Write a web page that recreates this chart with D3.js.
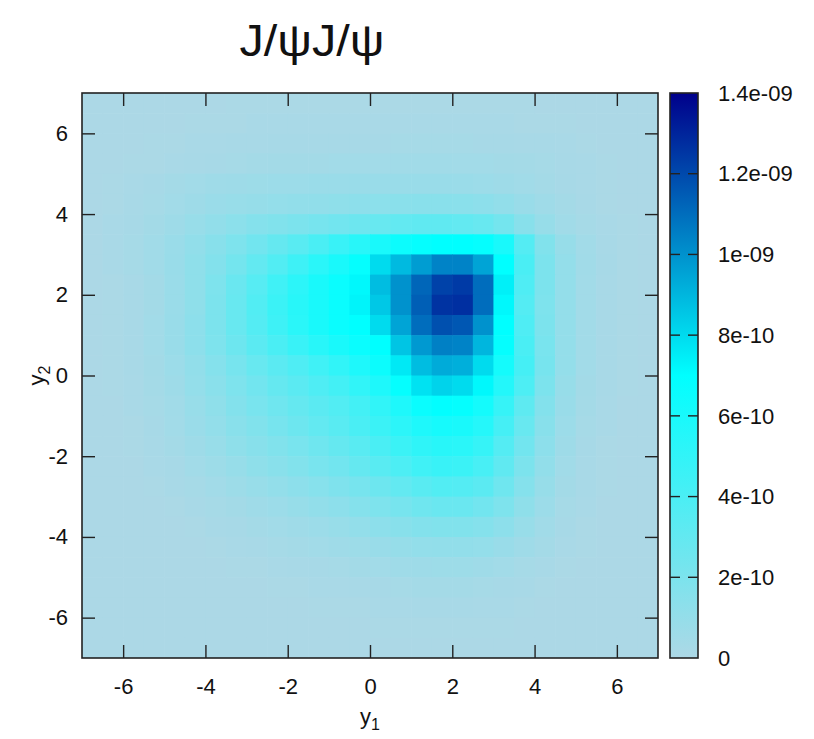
<!DOCTYPE html>
<html>
<head>
<meta charset="utf-8">
<script src="https://cdn.jsdelivr.net/npm/d3@7"></script>
<style>
  body { margin: 0; background: #fff; }
  svg { display: block; }
  text { font-family: "Liberation Sans", Arial, sans-serif; fill: #111; }
</style>
</head>
<body>
<div id="chart"></div>
<script>
// cell centres (cell width 0.5) on the y1 / y2 axes
const X_CENTERS = [-6.75, -6.25, -5.75, -5.25, -4.75, -4.25, -3.75, -3.25, -2.75, -2.25, -1.75, -1.25, -0.75, -0.25,
                   0.25, 0.75, 1.25, 1.75, 2.25, 2.75, 3.25, 3.75, 4.25, 4.75, 5.25, 5.75, 6.25, 6.75];
const Y_CENTERS = [6.75, 6.25, 5.75, 5.25, 4.75, 4.25, 3.75, 3.25, 2.75, 2.25, 1.75, 1.25, 0.75, 0.25,
                   -0.25, -0.75, -1.25, -1.75, -2.25, -2.75, -3.25, -3.75, -4.25, -4.75, -5.25, -5.75, -6.25, -6.75];
// values in units of 1e-10, rows from top (y2 = 6.75) to bottom
const Z = [
  [0.05,0.05,0.05,0.05,0.05,0.05,0.05,0.1,0.1,0.1,0.1,0.1,0.1,0.1,0.1,0.1,0.1,0.1,0.1,0.1,0.1,0.1,0.05,0.05,0.05,0.05,0.05,0.05],
  [0.05,0.05,0.05,0.05,0.05,0.1,0.1,0.1,0.15,0.15,0.15,0.15,0.15,0.15,0.15,0.15,0.15,0.15,0.15,0.15,0.15,0.1,0.1,0.1,0.05,0.05,0.05,0.05],
  [0.05,0.05,0.05,0.1,0.1,0.15,0.15,0.2,0.2,0.25,0.25,0.25,0.25,0.25,0.25,0.3,0.3,0.3,0.3,0.25,0.25,0.2,0.2,0.15,0.1,0.05,0.05,0.05],
  [0.05,0.05,0.1,0.1,0.15,0.2,0.25,0.3,0.35,0.4,0.4,0.4,0.45,0.45,0.45,0.5,0.5,0.5,0.45,0.45,0.4,0.35,0.3,0.2,0.15,0.1,0.05,0.05],
  [0.05,0.1,0.15,0.25,0.35,0.45,0.55,0.6,0.65,0.7,0.7,0.75,0.75,0.8,0.8,0.8,0.8,0.8,0.75,0.7,0.6,0.5,0.35,0.25,0.15,0.1,0.05,0.05],
  [0.05,0.1,0.2,0.3,0.45,0.6,0.75,0.85,0.95,1.0,1.1,1.15,1.2,1.3,1.35,1.4,1.45,1.45,1.4,1.3,1.1,0.8,0.55,0.35,0.2,0.1,0.05,0.05],
  [0.05,0.15,0.25,0.4,0.6,0.85,1.1,1.35,1.6,1.8,2.0,2.2,2.4,2.6,2.8,3.0,3.1,3.1,3.0,2.8,2.3,1.5,0.9,0.5,0.3,0.15,0.1,0.05],
  [0.05,0.15,0.3,0.5,0.75,1.1,1.5,1.9,2.4,2.9,3.4,4.0,4.7,5.4,6.0,6.5,6.8,7.0,7.0,6.8,6.0,3.6,1.8,0.9,0.45,0.2,0.1,0.05],
  [0.05,0.15,0.3,0.5,0.8,1.2,1.7,2.3,3.0,3.7,4.5,5.3,6.0,6.8,8.0,8.9,9.7,10.4,10.4,9.5,7.0,4.0,2.0,1.0,0.5,0.25,0.1,0.05],
  [0.05,0.1,0.2,0.4,0.75,1.2,1.9,2.7,3.5,4.4,5.2,6.0,6.6,7.2,8.8,10.0,11.2,12.2,12.4,11.0,7.4,3.8,2.0,1.0,0.45,0.2,0.1,0.05],
  [0.05,0.1,0.2,0.4,0.75,1.2,2.0,2.8,3.7,4.6,5.4,6.0,6.6,7.3,8.5,10.0,11.4,12.6,12.7,11.0,7.2,3.6,1.9,1.0,0.45,0.2,0.1,0.05],
  [0.05,0.1,0.2,0.45,0.8,1.3,2.0,2.8,3.6,4.5,5.3,6.0,6.6,7.0,8.0,9.5,11.0,11.8,11.6,10.0,7.0,3.8,2.0,1.0,0.45,0.2,0.1,0.05],
  [0.05,0.1,0.2,0.45,0.8,1.3,1.9,2.6,3.3,4.0,4.7,5.4,6.0,6.6,7.0,8.6,9.8,10.5,10.4,9.0,6.8,4.0,2.1,1.0,0.45,0.2,0.1,0.05],
  [0.05,0.1,0.2,0.4,0.7,1.1,1.6,2.2,2.8,3.3,3.8,4.4,5.0,5.8,6.5,7.6,8.8,9.3,9.2,8.0,6.2,4.2,2.2,1.0,0.45,0.2,0.1,0.05],
  [0.05,0.1,0.15,0.35,0.6,1.0,1.4,1.9,2.4,2.9,3.3,3.8,4.3,5.0,5.8,6.8,7.8,8.2,8.0,7.2,5.6,3.9,2.0,0.9,0.4,0.2,0.1,0.05],
  [0.05,0.05,0.15,0.3,0.5,0.85,1.2,1.7,2.1,2.5,2.9,3.3,3.7,4.3,5.0,5.8,6.6,6.9,6.8,6.2,4.8,3.2,1.7,0.8,0.35,0.15,0.05,0.05],
  [0.05,0.05,0.1,0.25,0.45,0.75,1.05,1.45,1.8,2.2,2.6,3.0,3.4,4.0,4.6,5.2,5.8,6.1,6.0,5.5,4.2,2.8,1.5,0.7,0.3,0.15,0.05,0.05],
  [0.05,0.05,0.1,0.2,0.35,0.6,0.85,1.2,1.5,1.8,2.1,2.5,2.9,3.4,4.0,4.6,5.1,5.4,5.3,4.8,3.6,2.4,1.3,0.6,0.25,0.1,0.05,0.05],
  [0.05,0.05,0.05,0.15,0.25,0.45,0.65,0.9,1.2,1.45,1.75,2.1,2.4,2.9,3.4,3.9,4.4,4.7,4.6,4.1,3.1,2.0,1.1,0.5,0.2,0.1,0.05,0.05],
  [0.05,0.05,0.05,0.1,0.2,0.3,0.45,0.65,0.85,1.05,1.3,1.55,1.85,2.2,2.6,3.0,3.4,3.7,3.6,3.3,2.5,1.6,0.9,0.4,0.2,0.1,0.05,0.05],
  [0.05,0.05,0.05,0.05,0.1,0.2,0.3,0.4,0.55,0.7,0.9,1.1,1.3,1.6,1.9,2.2,2.5,2.7,2.7,2.4,1.9,1.2,0.7,0.3,0.15,0.05,0.05,0.05],
  [0.05,0.05,0.05,0.05,0.05,0.1,0.2,0.25,0.35,0.45,0.55,0.7,0.85,1.05,1.3,1.5,1.7,1.8,1.8,1.6,1.3,0.85,0.5,0.25,0.1,0.05,0.05,0.05],
  [0.05,0.05,0.05,0.05,0.05,0.05,0.1,0.15,0.2,0.3,0.35,0.45,0.55,0.65,0.8,0.95,1.05,1.1,1.1,1.0,0.8,0.55,0.35,0.15,0.1,0.05,0.05,0.05],
  [0.05,0.05,0.05,0.05,0.05,0.05,0.05,0.1,0.1,0.15,0.2,0.25,0.3,0.4,0.45,0.55,0.6,0.65,0.65,0.55,0.45,0.3,0.2,0.1,0.05,0.05,0.05,0.05],
  [0.05,0.05,0.05,0.05,0.05,0.05,0.05,0.05,0.05,0.1,0.1,0.15,0.15,0.2,0.25,0.3,0.35,0.35,0.35,0.3,0.25,0.2,0.1,0.05,0.05,0.05,0.05,0.05],
  [0.05,0.05,0.05,0.05,0.05,0.05,0.05,0.05,0.05,0.05,0.05,0.1,0.1,0.1,0.15,0.15,0.2,0.2,0.2,0.15,0.15,0.1,0.05,0.05,0.05,0.05,0.05,0.05],
  [0.05,0.05,0.05,0.05,0.05,0.05,0.05,0.05,0.05,0.05,0.05,0.05,0.05,0.05,0.1,0.1,0.1,0.1,0.1,0.1,0.1,0.05,0.05,0.05,0.05,0.05,0.05,0.05],
  [0.05,0.05,0.05,0.05,0.05,0.05,0.05,0.05,0.05,0.05,0.05,0.05,0.05,0.05,0.05,0.05,0.05,0.05,0.05,0.05,0.05,0.05,0.05,0.05,0.05,0.05,0.05,0.05],
];
const X_TICKS = [-6, -4, -2, 0, 2, 4, 6];
const Y_TICKS = [-6, -4, -2, 0, 2, 4, 6];
const CB_TICKS = [0, 2, 4, 6, 8, 10, 12, 14];
const CB_LABELS = ["0", "2e-10", "4e-10", "6e-10", "8e-10", "1e-09", "1.2e-09", "1.4e-09"];

const W = 814, H = 739;
const m = { l: 82, r: 658, t: 93, b: 658 };
const cb = { l: 670, r: 698 };
const CELL = 0.5;
const FS = 22;

const svg = d3.select("#chart").append("svg").attr("width", W).attr("height", H);

const x = d3.scaleLinear().domain([-7, 7]).range([m.l, m.r]);
const y = d3.scaleLinear().domain([-7, 7]).range([m.b, m.t]);
const color = d3.scaleLinear().domain([0, 7, 14]).range(["#add8e6", "#00ffff", "#00008b"]);
const yc = d3.scaleLinear().domain([0, 14]).range([m.b, m.t]);

// heat map cells
svg.append("clipPath").attr("id", "clip").append("rect")
  .attr("x", m.l).attr("y", m.t).attr("width", m.r - m.l).attr("height", m.b - m.t);
const cells = [];
Z.forEach((row, j) => row.forEach((v, i) => cells.push({ cx: X_CENTERS[i], cy: Y_CENTERS[j], v })));
svg.append("g").attr("clip-path", "url(#clip)")
  .selectAll("rect").data(cells).join("rect")
  .attr("x", d => x(d.cx - CELL / 2))
  .attr("y", d => y(d.cy + CELL / 2))
  .attr("width", x(CELL) - x(0) + 0.6)
  .attr("height", y(0) - y(CELL) + 0.6)
  .attr("fill", d => color(d.v));

// axes, ticks pointing inward on all four sides
function styleAxis(g) {
  g.attr("font-size", FS).attr("font-family", "Liberation Sans, Arial, sans-serif");
  g.select(".domain").remove();
  g.selectAll(".tick line").attr("stroke", "#222").attr("stroke-width", 1.4);
  g.selectAll(".tick text").attr("fill", "#111");
}
svg.append("g").attr("transform", `translate(0,${m.b})`)
  .call(d3.axisBottom(x).tickValues(X_TICKS).tickSize(-13).tickPadding(20).tickFormat(d => String(d)))
  .call(styleAxis);
svg.append("g").attr("transform", `translate(0,${m.t})`)
  .call(d3.axisTop(x).tickValues(X_TICKS).tickSize(-13).tickFormat(""))
  .call(styleAxis);
svg.append("g").attr("transform", `translate(${m.l},0)`)
  .call(d3.axisLeft(y).tickValues(Y_TICKS).tickSize(-13).tickPadding(14).tickFormat(d => String(d)))
  .call(styleAxis);
svg.append("g").attr("transform", `translate(${m.r},0)`)
  .call(d3.axisRight(y).tickValues(Y_TICKS).tickSize(-13).tickFormat(""))
  .call(styleAxis);

svg.append("rect").attr("x", m.l).attr("y", m.t).attr("width", m.r - m.l).attr("height", m.b - m.t)
  .attr("fill", "none").attr("stroke", "#222").attr("stroke-width", 1.6);

// colour box
const grad = svg.append("defs").append("linearGradient").attr("id", "cbgrad")
  .attr("x1", 0).attr("y1", 1).attr("x2", 0).attr("y2", 0);
color.domain().forEach(v => grad.append("stop").attr("offset", v / 14).attr("stop-color", color(v)));
svg.append("rect").attr("x", cb.l).attr("y", m.t).attr("width", cb.r - cb.l).attr("height", m.b - m.t)
  .attr("fill", "url(#cbgrad)").attr("stroke", "#222").attr("stroke-width", 1.6);

const cbt = svg.append("g");
CB_TICKS.slice(1, -1).forEach(v => {
  cbt.append("line").attr("x1", cb.l).attr("x2", cb.l + 10).attr("y1", yc(v)).attr("y2", yc(v))
    .attr("stroke", "#222").attr("stroke-width", 1.4);
  cbt.append("line").attr("x1", cb.r - 10).attr("x2", cb.r).attr("y1", yc(v)).attr("y2", yc(v))
    .attr("stroke", "#222").attr("stroke-width", 1.4);
});
CB_TICKS.forEach((v, i) => {
  cbt.append("text").attr("x", 718).attr("y", yc(v)).attr("dy", "0.35em")
    .attr("font-size", FS).text(CB_LABELS[i]);
});

// labels
const xl = svg.append("text").attr("x", x(0)).attr("y", 724).attr("text-anchor", "middle").attr("font-size", FS);
xl.append("tspan").text("y");
xl.append("tspan").attr("font-size", 16).attr("dy", 6).text("1");

const yl = svg.append("text").attr("transform", `translate(44,${y(0)}) rotate(-90)`)
  .attr("text-anchor", "middle").attr("font-size", FS);
yl.append("tspan").text("y");
yl.append("tspan").attr("font-size", 16).attr("dy", 6).text("2");

svg.append("text").attr("x", 312).attr("y", 56).attr("text-anchor", "middle")
  .attr("font-size", 44).attr("textLength", 145).attr("lengthAdjust", "spacingAndGlyphs")
  .text("J/ψJ/ψ");
</script>
</body>
</html>
